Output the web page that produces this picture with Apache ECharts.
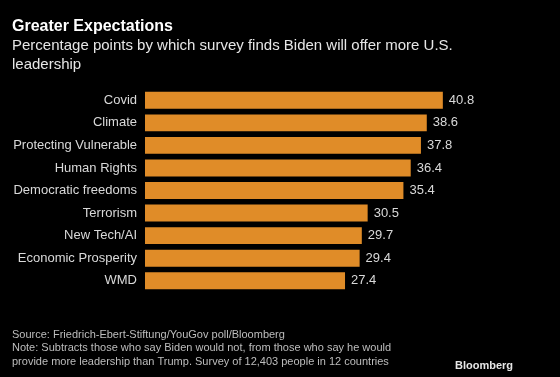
<!DOCTYPE html>
<html>
<head>
<meta charset="utf-8">
<script src="https://cdn.jsdelivr.net/npm/echarts@6/dist/echarts.min.js"></script>
<style>
  html, body { margin: 0; padding: 0; background: #000; }
  #chart { width: 560px; height: 377px; }
</style>
</head>
<body>
<div id="chart"></div>
<script>
// categories top to bottom
var categories = ['Covid', 'Climate', 'Protecting Vulnerable', 'Human Rights', 'Democratic freedoms',
                  'Terrorism', 'New Tech/AI', 'Economic Prosperity', 'WMD'];
var values = [40.8, 38.6, 37.8, 36.4, 35.4, 30.5, 29.7, 29.4, 27.4];

var FONT = '"Liberation Sans", sans-serif';

var chart = echarts.init(document.getElementById('chart'));

chart.setOption({
    backgroundColor: '#000000',
    animation: false,
    title: [
        {
            text: 'Greater Expectations',
            left: 12, top: 19, padding: 0,
            textStyle: { color: '#ffffff', fontSize: 16, fontWeight: 'bold', fontFamily: FONT }
        },
        {
            text: 'Percentage points by which survey finds Biden will offer more U.S.\nleadership',
            left: 12, top: 36, padding: 0,
            textStyle: { color: '#e6e6e6', fontSize: 15, fontWeight: 'normal', fontFamily: FONT, lineHeight: 19 }
        },
        {
            text: 'Source: Friedrich-Ebert-Stiftung/YouGov poll/Bloomberg\nNote: Subtracts those who say Biden would not, from those who say he would\nprovide more leadership than Trump. Survey of 12,403 people in 12 countries',
            left: 12, top: 328, padding: 0,
            textStyle: { color: '#bdbdbd', fontSize: 11, fontWeight: 'normal', fontFamily: FONT, lineHeight: 13.5 }
        },
        {
            text: 'Bloomberg',
            left: 455, top: 360, padding: 0,
            textStyle: { color: '#e6e6e6', fontSize: 11, fontWeight: 'bold', fontFamily: FONT }
        }
    ],
    grid: {
        left: 145,
        top: 89,
        width: 328.5,
        height: 203
    },
    xAxis: {
        type: 'value',
        min: 0,
        max: 45,
        show: false
    },
    yAxis: {
        type: 'category',
        data: categories,
        inverse: true,
        axisLine: { show: false },
        axisTick: { show: false },
        axisLabel: {
            color: '#d9d9d9',
            fontSize: 13,
            fontFamily: FONT,
            margin: 8
        }
    },
    series: [
        {
            type: 'bar',
            data: values,
            barCategoryGap: '25%',
            itemStyle: { color: '#E08C28' },
            label: {
                show: true,
                position: 'right',
                distance: 6,
                color: '#d9d9d9',
                fontSize: 13,
                fontFamily: FONT
            }
        }
    ]
});
</script>
</body>
</html>
